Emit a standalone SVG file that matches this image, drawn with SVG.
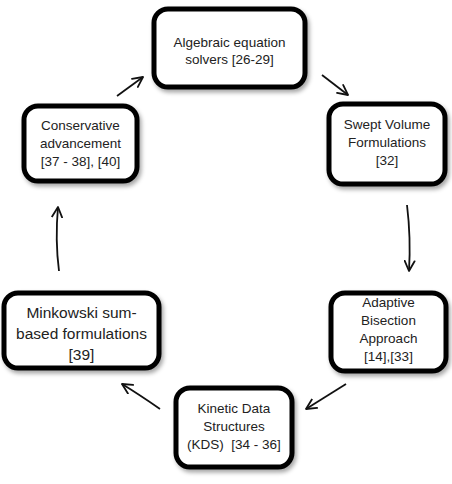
<svg xmlns="http://www.w3.org/2000/svg" width="452" height="484" viewBox="0 0 452 484">
<defs>
<filter id="sh" x="-10%" y="-10%" width="125%" height="130%">
<feDropShadow dx="2" dy="3" stdDeviation="2" flood-color="#000" flood-opacity="0.35"/>
</filter>
<marker id="ah" viewBox="0 0 12 12" refX="11" refY="6" markerWidth="12" markerHeight="12" markerUnits="userSpaceOnUse" orient="auto">
<path d="M1,1 L11,6 L1,11" fill="none" stroke="#111" stroke-width="1.8" stroke-linecap="round" stroke-linejoin="round"/>
</marker>
<style>
.box{fill:#fff;stroke:#000;stroke-width:5;filter:url(#sh)}
.t{font-family:"Liberation Sans",Arial,sans-serif;font-size:13.5px;fill:#222;text-anchor:middle}
.big{font-size:15.5px}
.c{fill:none;stroke:#111;stroke-width:1.8;marker-end:url(#ah)}
</style>
</defs>
<rect width="452" height="484" fill="#fff"/>
<g id="connectors">
<path class="c" d="M117,96 L143,77"/>
<path class="c" d="M322,75 L348,95"/>
<path class="c" d="M407,205 Q411,238 409,271"/>
<path class="c" d="M346,384 L306,409"/>
<path class="c" d="M160,409 Q140,395 122,384"/>
<path class="c" d="M59,271 Q55,240 58,207"/>
</g>
<g id="algebraic">
<rect class="box" x="154" y="9" width="151" height="78" rx="14"/>
<text class="t" x="229.5" y="47">Algebraic equation</text>
<text class="t" x="229.5" y="64">solvers [26-29]</text>
</g>
<g id="swept">
<rect class="box" x="329" y="104" width="116" height="80" rx="14"/>
<text class="t" x="387" y="129">Swept Volume</text>
<text class="t" x="387" y="147">Formulations</text>
<text class="t" x="387" y="165">[32]</text>
</g>
<g id="adaptive">
<rect class="box" x="331" y="293" width="115" height="78" rx="14"/>
<text class="t" x="388.5" y="307">Adaptive</text>
<text class="t" x="388.5" y="325">Bisection</text>
<text class="t" x="388.5" y="343">Approach</text>
<text class="t" x="388.5" y="361">[14],[33]</text>
</g>
<g id="kinetic">
<rect class="box" x="176" y="388" width="116" height="79" rx="14"/>
<text class="t" x="234" y="413">Kinetic Data</text>
<text class="t" x="234" y="431">Structures</text>
<text class="t" x="234" y="449">(KDS)&#160; [34 - 36]</text>
</g>
<g id="minkowski">
<rect class="box" x="4" y="293" width="155" height="75" rx="14"/>
<text class="t big" x="81.5" y="318">Minkowski sum-</text>
<text class="t big" x="81.5" y="339">based formulations</text>
<text class="t big" x="81.5" y="360">[39]</text>
</g>
<g id="conservative">
<rect class="box" x="24" y="106" width="113" height="75" rx="14"/>
<text class="t" x="80.5" y="130">Conservative</text>
<text class="t" x="80.5" y="148">advancement</text>
<text class="t" x="80.5" y="166">[37 - 38], [40]</text>
</g>
</svg>
